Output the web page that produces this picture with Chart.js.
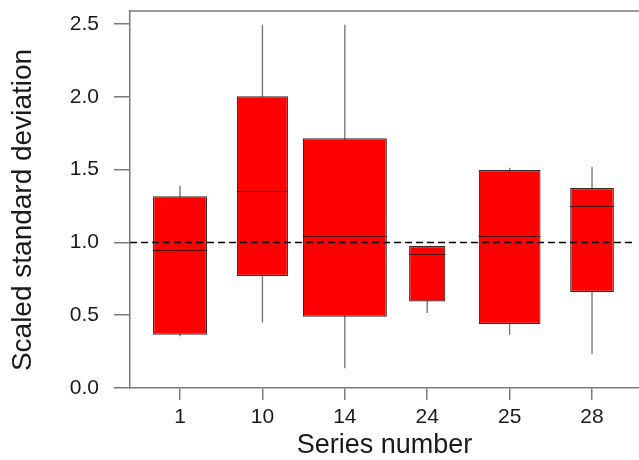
<!DOCTYPE html>
<html>
<head>
<meta charset="utf-8">
<script src="https://cdn.jsdelivr.net/npm/chart.js@4.4.1/dist/chart.umd.min.js"></script>
<style>
  html, body { margin: 0; padding: 0; background: #fff; }
  canvas { display: block; }
</style>
</head>
<body>
<canvas id="boxChart" width="639" height="460"></canvas>
<script>
/* ---------------------------
   Data
--------------------------- */
const categories = ["1", "10", "14", "24", "25", "28"];
const whiskerLow  = [0.355, 0.45, 0.135, 0.515, 0.365, 0.235];
const quartile1   = [0.366, 0.77, 0.49, 0.595, 0.44, 0.66];
const medians     = [0.948, 1.353, 1.044, 0.918, 1.044, 1.248];
const quartile3   = [1.318, 2.005, 1.715, 0.975, 1.497, 1.374];
const whiskerHigh = [1.39, 2.495, 2.495, 0.975, 1.513, 1.518];
// relative box widths (fraction of category spacing)
const boxWidths   = [0.655, 0.62, 1.02, 0.44, 0.75, 0.53];
const yTicks      = [0, 0.5, 1.0, 1.5, 2.0, 2.5];
const refLine     = 1.0;

const AXIS_GREY = "#7a7a7a";
const TEXT = "#1a1a1a";

Chart.defaults.font.family = "'Liberation Sans', Arial, sans-serif";
Chart.defaults.color = TEXT;

/* ---------------------------
   Datasets: one per box (own width) + whiskers
--------------------------- */
const boxSets = categories.map((c, i) => ({
  label: "Series " + c,
  data: [{ x: i, y: [quartile1[i], quartile3[i]] }],
  backgroundColor: "#ff0000",
  borderColor: "#3a2a2a",
  borderWidth: 1.2,
  borderSkipped: false,
  grouped: false,
  categoryPercentage: 1,
  barPercentage: boxWidths[i]
}));

const whiskerSet = {
  label: "whiskers",
  data: categories.map((c, i) => ({ x: i, y: [whiskerLow[i], whiskerHigh[i]] })),
  backgroundColor: "#7a7a7a",
  borderWidth: 0,
  grouped: false,
  maxBarThickness: 1.4
};

/* ---------------------------
   Extra drawing: medians, reference line, frame, y title
--------------------------- */
const boxExtras = {
  id: "boxExtras",
  afterDatasetsDraw(chart) {
    const { ctx, chartArea, scales } = chart;
    const y = scales.y;
    ctx.save();

    // median lines across each box
    ctx.strokeStyle = "#4a0000";
    ctx.lineWidth = 1.2;
    boxSets.forEach((ds, i) => {
      const bar = chart.getDatasetMeta(i).data[0];
      if (!bar) return;
      const py = Math.round(y.getPixelForValue(medians[i])) + 0.5;
      ctx.beginPath();
      ctx.moveTo(bar.x - bar.width / 2, py);
      ctx.lineTo(bar.x + bar.width / 2, py);
      ctx.stroke();
    });

    // dashed reference line
    const ry = Math.round(y.getPixelForValue(refLine)) + 0.5;
    ctx.strokeStyle = "#000";
    ctx.lineWidth = 1.4;
    ctx.setLineDash([7, 4]);
    ctx.beginPath();
    ctx.moveTo(chartArea.left, ry);
    ctx.lineTo(chartArea.right - 3, ry);
    ctx.stroke();
    ctx.setLineDash([]);

    // top frame line
    ctx.strokeStyle = AXIS_GREY;
    ctx.lineWidth = 1.5;
    ctx.beginPath();
    ctx.moveTo(chartArea.left, chartArea.top);
    ctx.lineTo(chartArea.right, chartArea.top);
    ctx.stroke();

    // y axis title
    ctx.fillStyle = TEXT;
    ctx.font = "28px 'Liberation Sans', Arial, sans-serif";
    ctx.textAlign = "center";
    ctx.textBaseline = "middle";
    ctx.translate(23, 210);
    ctx.rotate(-Math.PI / 2);
    ctx.fillText("Scaled standard deviation", 0, 0);
    ctx.restore();
  }
};

/* ---------------------------
   Chart
--------------------------- */
new Chart(document.getElementById("boxChart").getContext("2d"), {
  type: "bar",
  data: { datasets: [...boxSets, whiskerSet] },
  options: {
    responsive: false,
    animation: false,
    layout: { padding: { top: 11, right: 0, left: 0, bottom: 0 } },
    plugins: {
      legend: { display: false },
      tooltip: { enabled: false }
    },
    scales: {
      x: {
        type: "linear",
        offset: false,
        min: -0.607,
        max: 5.57,
        afterBuildTicks: s => { s.ticks = categories.map((c, i) => ({ value: i })); },
        afterFit: s => { s.height = 72; s.paddingLeft = 0; s.paddingRight = 0; },
        ticks: {
          callback: v => categories[v],
          font: { size: 21 },
          color: TEXT,
          padding: 5,
          maxRotation: 0,
          autoSkip: false
        },
        grid: { offset: false, drawOnChartArea: false, tickLength: 12, color: AXIS_GREY, lineWidth: 1.5 },
        border: { color: AXIS_GREY, width: 1.5 },
        title: {
          display: true,
          text: "Series number",
          font: { size: 27 },
          color: TEXT,
          padding: { top: 0, bottom: -2 }
        }
      },
      y: {
        min: 0,
        max: 2.59,
        afterBuildTicks: s => { s.ticks = yTicks.map(v => ({ value: v })); },
        afterFit: s => { s.width = 130; s.paddingTop = 0; s.paddingBottom = 0; },
        ticks: {
          callback: v => Number(v).toFixed(1),
          font: { size: 21 },
          color: TEXT,
          padding: 15
        },
        grid: { drawOnChartArea: false, tickLength: 16, color: AXIS_GREY, lineWidth: 1.5 },
        border: { color: AXIS_GREY, width: 1.5 }
      }
    }
  },
  plugins: [boxExtras]
});
</script>
</body>
</html>
